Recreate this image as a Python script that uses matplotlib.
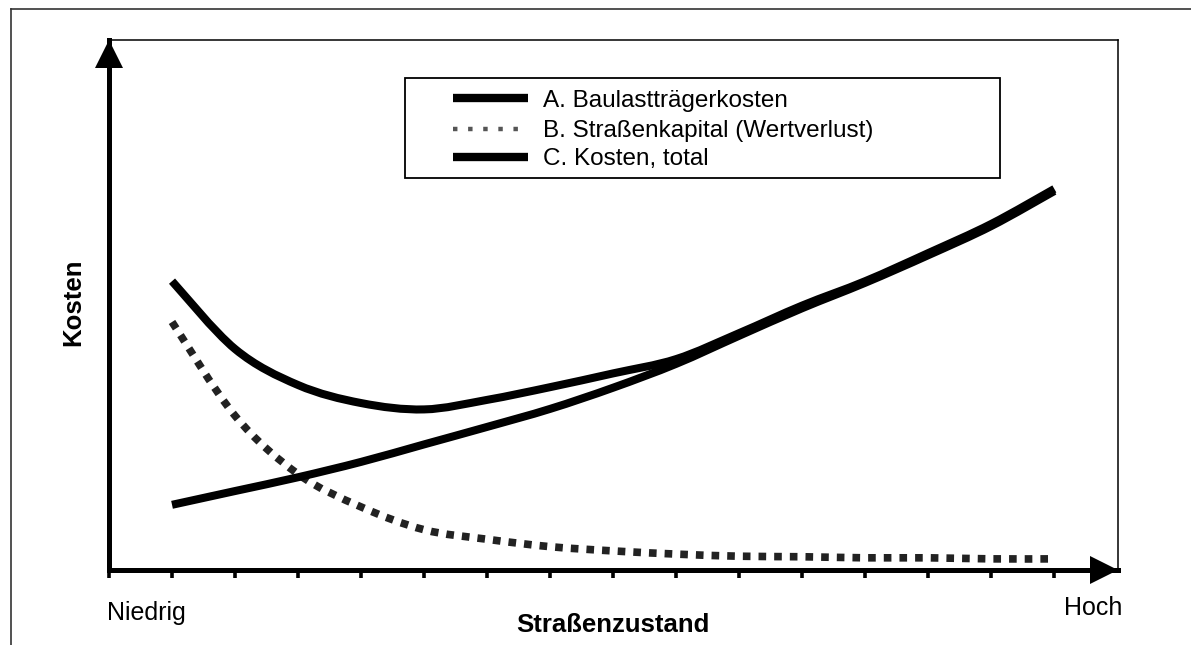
import numpy as np
import matplotlib
matplotlib.use('Agg')
import matplotlib.pyplot as plt
from matplotlib.path import Path
from matplotlib.patches import PathPatch, Rectangle
from matplotlib.lines import Line2D

plt.rcParams['font.family'] = ['Liberation Sans', 'DejaVu Sans']

# %% Data (Straßenzustand categories, Niedrig -> Hoch)
zustand = np.arange(1, 16)
baulast = [12.3, 14.9, 17.5, 20.4, 23.7, 27.0, 30.4, 34.4, 38.9, 44.2, 49.4, 54.2, 59.4, 64.9, 71.5]
kapital = [46.8, 29.1, 18.1, 11.9, 7.6, 5.8, 4.4, 3.6, 3.0, 2.6, 2.5, 2.3, 2.3, 2.1, 2.1]
total = [54.5, 41.7, 34.9, 31.5, 30.3, 32.1, 34.5, 37.1, 39.8, 44.7, 49.9, 54.5, 59.8, 65.3, 71.9]
labels = ['A. Baulastträgerkosten', 'B. Straßenkapital (Wertverlust)', 'C. Kosten, total']


def smooth_path(x, y):
    # smoothed line like Excel: cubic bezier segments through the data points
    pts = np.column_stack([x, y]).astype(float)
    ext = np.vstack([pts[0], pts, pts[-1]])
    verts = [pts[0]]
    codes = [Path.MOVETO]
    for i in range(len(pts) - 1):
        p0, p1, p2, p3 = ext[i], ext[i + 1], ext[i + 2], ext[i + 3]
        verts += [p1 + (p2 - p0) / 6, p2 - (p3 - p1) / 6, p2]
        codes += [Path.CURVE4] * 3
    return Path(verts, codes)


# %% Figure
W, H = 1191, 645
fig = plt.figure(figsize=(W / 100, H / 100), dpi=100)
ax = fig.add_axes([109 / W, 1 - 570 / H, (1118 - 109) / W, 530 / H])
ax.set_xlim(0, 16.01)
ax.set_ylim(0, 100)

# curves
ax.add_patch(PathPatch(smooth_path(zustand, kapital), fill=False, ec='#222222', lw=5.5,
                       ls=(0, (1, 1.05)), capstyle='butt'))
ax.add_patch(PathPatch(smooth_path(zustand, baulast), fill=False, ec='black', lw=5.8, capstyle='butt'))
ax.add_patch(PathPatch(smooth_path(zustand, total), fill=False, ec='black', lw=5.8, capstyle='butt'))

# axes look
for s in ['left', 'bottom']:
    ax.spines[s].set_linewidth(3.6)
for s in ['top', 'right']:
    ax.spines[s].set_linewidth(1.1)
ax.set_xticks(np.arange(0, 16))
ax.set_xticklabels([])
ax.set_yticks([])
ax.tick_params(axis='x', direction='out', length=6, width=2.6, color='black')

# arrow heads
ax.plot([0], [1 - 14 / 530], marker='^', ms=19.5, mew=0, color='black',
        transform=ax.transAxes, clip_on=False)
ax.plot([1 - 14 / 1009], [0], marker='>', ms=19.5, mew=0, color='black',
        transform=ax.transAxes, clip_on=False)

# labels
fig.text(107 / W, 1 - 620 / H, 'Niedrig', fontsize=18, ha='left', va='baseline')
fig.text(1122 / W, 1 - 615 / H, 'Hoch', fontsize=18, ha='right', va='baseline')
fig.text(613 / W, 1 - 632 / H, 'Straßenzustand', fontsize=18.5, fontweight='bold',
         ha='center', va='baseline')
fig.text(73 / W, 1 - 302 / H, 'Kosten', fontsize=18.5, fontweight='bold', rotation=90,
         ha='center', va='center')

# legend box
fig.add_artist(Rectangle((405 / W, 1 - 178 / H), 595 / W, 100 / H, transform=fig.transFigure,
                         fill=False, ec='black', lw=1.3))
rows = [98, 129, 157]
styles = [dict(lw=6, ls='-', color='black'),
          dict(lw=3.2, ls=(0, (1, 2.4)), color='#555555'),
          dict(lw=6, ls='-', color='black')]
for lab, yrow, st in zip(labels, rows, styles):
    fig.add_artist(Line2D([453 / W, 528 / W], [1 - yrow / H] * 2, transform=fig.transFigure,
                          solid_capstyle='butt', dash_capstyle='butt', **st))
    fig.text(543 / W, 1 - (yrow + 8.5) / H, lab, fontsize=17.5, va='baseline')

# outer frame (left and top edge)
fig.add_artist(Line2D([11 / W, 11 / W], [0, 1 - 9 / H], transform=fig.transFigure, lw=1.2, color='#333333'))
fig.add_artist(Line2D([11 / W, 1], [1 - 9 / H] * 2, transform=fig.transFigure, lw=1.2, color='#333333'))

fig.savefig('out.png', dpi=100)
